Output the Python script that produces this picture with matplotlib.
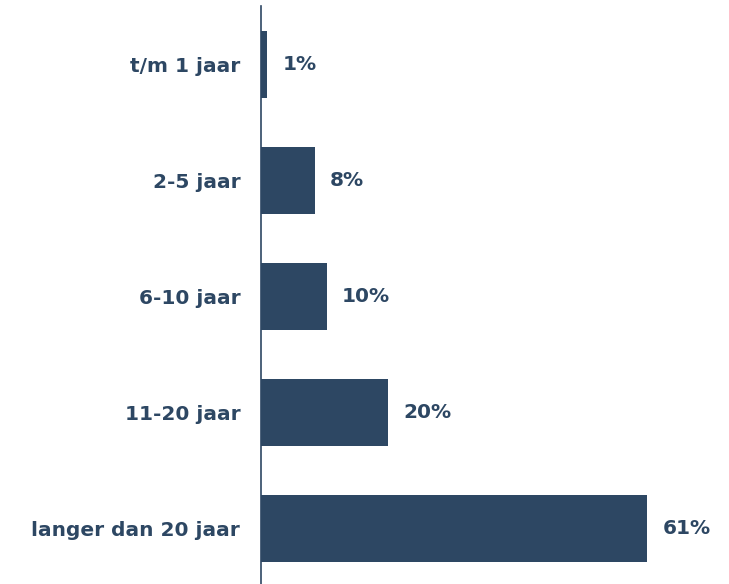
import matplotlib
matplotlib.use("Agg")
import matplotlib.pyplot as plt

categories = ["t/m 1 jaar", "2-5 jaar", "6-10 jaar", "11-20 jaar", "langer dan 20 jaar"]
values = [1.0, 8.5, 10.4, 20.1, 61.0]
value_labels = ["1%", "8%", "10%", "20%", "61%"]

color = "#2D4763"
fig = plt.figure(figsize=(7.29, 5.84), dpi=100)
ax = fig.add_axes([261 / 729, 0, 468 / 729, 578 / 584])

ypos = list(range(len(categories)))
ax.barh(ypos, values, height=0.58, color=color)
ax.set_ylim(len(categories) - 0.522, -0.505)
ax.set_xlim(0, 73.9)
ax.set_yticks(ypos)
ax.set_yticklabels(categories, fontsize=14.5, fontweight="bold", color=color, family="DejaVu Sans")
ax.tick_params(axis="y", length=0, pad=15)
ax.set_xticks([])
for s in ["top", "right", "bottom"]:
    ax.spines[s].set_visible(False)
ax.spines["left"].set_color(color)
ax.spines["left"].set_linewidth(1.2)

for y, v, lab in zip(ypos, values, value_labels):
    ax.annotate(lab, (v, y), xytext=(15, 0), textcoords="offset pixels",
                va="center", ha="left", fontsize=14.5, fontweight="bold", color=color)

fig.savefig("out.png", dpi=100)
